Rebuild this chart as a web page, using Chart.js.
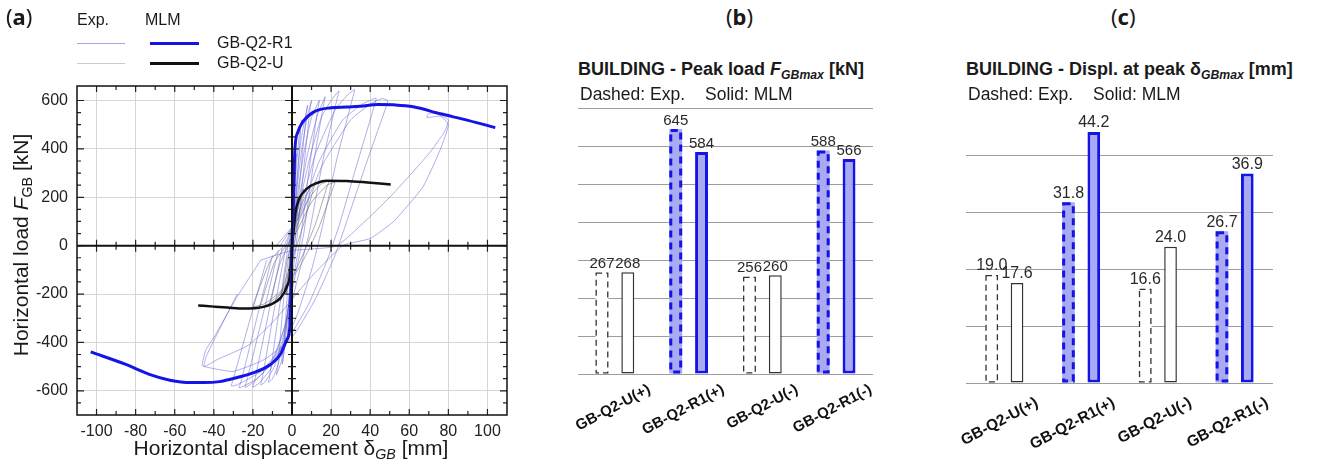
<!DOCTYPE html>
<html>
<head>
<meta charset="utf-8">
<script src="https://cdn.jsdelivr.net/npm/chart.js@4.4.1/dist/chart.umd.min.js"></script>
<style>
  body { margin: 0; background: #fff; }
  #wrap { position: relative; width: 1319px; height: 469px; overflow: hidden; font-family: "Liberation Sans", Arial, sans-serif; color: #1a1a1a; }
  canvas { position: absolute; }
  .t { position: absolute; white-space: nowrap; }
  .ln { position: absolute; height: 0; }
  .lg { font-size: 16px; line-height: 18px; }
  .pl { font-family: "Noto Sans", sans-serif; font-size: 22px; line-height: 26px; }
  .ttl { font-size: 18px; line-height: 20px; font-weight: bold; }
  .sub { font-size: 17.5px; line-height: 20px; }
  sub { font-size: 0.68em; vertical-align: -0.3em; line-height: 0; }
</style>
</head>
<body>
<div id="wrap">
  <canvas id="cA" width="520" height="469" style="left:0;top:0"></canvas>
  <canvas id="cB" width="340" height="369" style="left:550px;top:100px"></canvas>
  <canvas id="cC" width="350" height="369" style="left:940px;top:100px"></canvas>

  <div class="t pl" style="left:6px;top:3px">(<b>a</b>)</div>
  <div class="t pl" style="left:726px;top:3px">(<b>b</b>)</div>
  <div class="t pl" style="left:1111px;top:3px">(<b>c</b>)</div>

  <div class="t lg" style="left:77px;top:11px">Exp.</div>
  <div class="t lg" style="left:145px;top:11px">MLM</div>
  <div class="ln" style="left:77px;top:43px;width:48px;border-top:1px solid rgba(90,90,210,0.55)"></div>
  <div class="ln" style="left:150px;top:42px;width:49px;border-top:3px solid #1414e6"></div>
  <div class="t lg" style="left:217px;top:34px">GB-Q2-R1</div>
  <div class="ln" style="left:77px;top:63px;width:48px;border-top:1px solid rgba(150,150,160,0.5)"></div>
  <div class="ln" style="left:150px;top:62px;width:49px;border-top:3px solid #111"></div>
  <div class="t lg" style="left:217px;top:54px">GB-Q2-U</div>

  <div class="t" style="left:91px;top:436px;width:400px;text-align:center;font-size:21px;line-height:24px">Horizontal displacement &delta;<sub><i>GB</i></sub> [mm]</div>
  <div class="t" style="left:-129px;top:233px;width:300px;height:24px;text-align:center;font-size:21px;line-height:24px;transform:rotate(-90deg)">Horizontal load <i>F</i><sub>GB</sub> [kN]</div>

  <div class="t ttl" style="left:578px;top:59px">BUILDING - Peak load <i>F</i><sub><i>GBmax</i></sub> [kN]</div>
  <div class="t sub" style="left:580px;top:84px">Dashed: Exp.<span style="margin-left:20px">Solid: MLM</span></div>
  <div class="t ttl" style="left:966px;top:59px">BUILDING - Displ. at peak &delta;<sub><i>GBmax</i></sub> [mm]</div>
  <div class="t sub" style="left:968px;top:84px">Dashed: Exp.<span style="margin-left:20px">Solid: MLM</span></div>
</div>
<script>
// ---- panel (a): load-displacement curves [mm, kN] ----
const mlmR1 = [[-103,-439],[-85,-491],[-73,-532],[-62.5,-556],[-52,-566],[-45,-566],[-37,-562],[-32,-553],[-20,-526],[-11,-491],[-6,-450],[-2.6,-388],[-1,-330],[-0.4,-150],[0,0],
  [0.5,120],[1.5,400],[3,470],[5,505],[11,552],[20,570],[28,573],[35,576],[44,584],[52,582],[62,574],[76,545],[90,518],[104,488]];
const mlmU = [[-48,-247],[-40,-252],[-33,-256],[-24,-260],[-18,-258],[-11,-244],[-6,-217],[-2.6,-169],[-0.9,-114],[0,0],
  [0.8,60],[1.7,134],[3.4,188],[7.7,236],[12.8,259],[17.6,268],[28,267],[38.6,261],[50.5,253]];

const expR1Loops = [
  [[0,0],[0.6,120],[1.4,260],[2.2,380],[1.9,340],[0.6,90],[-0.2,-30],[-0.8,-150],[-1.6,-280],[-2.3,-380],[-2,-330],[-0.5,-60],[0,0]],
  [[0,0],[1.2,200],[2.6,360],[4,480],[5,520],[4.4,480],[2,180],[0.6,0],[-1,-150],[-2.6,-320],[-4,-440],[-5,-490],[-4.4,-450],[-2,-150],[-0.5,0]],
  [[-0.5,0],[2,230],[4.5,430],[7,540],[8,580],[7.3,545],[4,260],[1.5,20],[-0.5,-130],[-3,-340],[-5.5,-480],[-8,-535],[-7.3,-500],[-4,-200],[-1,0]],
  [[-1,0],[2,200],[5,400],[8,540],[10,600],[9.3,570],[6,320],[2.5,30],[0,-140],[-3.5,-350],[-7,-490],[-10,-550],[-12,-565],[-11.2,-530],[-6,-230],[-2,0]],
  [[-1.5,0],[2,170],[6,380],[10,530],[14,600],[13.2,565],[9,330],[4.5,40],[1,-120],[-4,-360],[-9,-500],[-14,-565],[-16,-575],[-15,-540],[-9,-260],[-3,0]],
  [[-2,0],[3,170],[8,380],[13,540],[17,615],[16.2,585],[11,340],[6,50],[2,-110],[-4,-340],[-11,-510],[-17,-570],[-20,-585],[-19,-555],[-12,-280],[-5,-10]],
  [[-3,0],[3,150],[9,360],[15,530],[20,600],[24,640],[23,605],[16,360],[9,60],[4,-100],[-3,-320],[-11,-490],[-19,-560],[-24,-586],[-23,-555],[-15,-290],[-7,-20]],
  [[-4,0],[4,150],[12,380],[22,560],[28,620],[32,645],[31,610],[23,360],[15,60],[10,-100],[2,-300],[-8,-460],[-18,-550],[-27,-588],[-26,-560],[-18,-300],[-10,-40]],
  [[-6,0],[4,130],[14,350],[26,520],[36,585],[43,610],[42,575],[33,330],[24,80],[18,-60],[8,-250],[-4,-410],[-16,-520],[-28,-575],[-31,-580],[-30,-550],[-22,-320],[-13,-60]],
  [[-8,0],[4,120],[16,340],[30,520],[40,585],[46,608],[49,600],[48,570],[38,340],[28,100],[22,-40],[12,-220],[0,-380],[-14,-470],[-30,-520],[-42,-505],[-46,-495],[-44,-430],[-40,-380],[-28,-210],[-16,-60]],
  [[-16,-60],[0,-20],[23,0],[50,200],[70,380],[78,470],[80,520],[74,545],[70,548],[69,530],[76,535],[80,500],[76,400],[67,243],[52,100],[40,30],[26,0],[12,-110],[2.6,-196],[-8,-300],[-22,-410],[-38,-470],[-45,-500],[-44,-460],[-38,-360],[-28,-200]]
];
const expULoops = [
  [[0,0],[0.5,60],[1,110],[1.5,150],[1.3,130],[0.4,30],[0,-20],[-0.5,-70],[-1,-120],[-1.5,-150],[-1.3,-130],[-0.3,-20],[0,0]],
  [[0,0],[1,90],[2,160],[3,200],[2.6,180],[1,50],[0,-20],[-1,-100],[-2,-160],[-3,-200],[-2.6,-180],[-1,-40],[0,0]],
  [[-0.5,0],[2,110],[4,190],[6,235],[5.4,215],[2.5,70],[0.5,-20],[-2,-120],[-4,-190],[-6,-230],[-5.4,-210],[-2.5,-60],[-0.5,0]],
  [[-1,0],[2,90],[6,190],[10,245],[12,255],[11,235],[6,90],[2,-10],[-2,-110],[-6,-200],[-10,-240],[-12,-250],[-11,-225],[-6,-70],[-2,0]],
  [[-2,0],[3,90],[9,200],[15,255],[19,267],[18,245],[12,90],[7,-10],[2,-100],[-5,-190],[-12,-240],[-16.6,-256],[-15.5,-230],[-9,-70],[-3,0]],
  [[-3,0],[3,70],[10,180],[18,250],[22,262],[21,240],[14,80],[9,-10],[3,-100],[-6,-190],[-14,-240],[-20,-252],[-19,-225],[-11,-60],[-4,0]]
];

// ---- panels (b), (c): bar values ----
const specimens = ['GB-Q2-U(+)', 'GB-Q2-R1(+)', 'GB-Q2-U(-)', 'GB-Q2-R1(-)'];
const peakLoadExp = [267, 645, 256, 588];
const peakLoadMlm = [268, 584, 260, 566];
const peakDispExp = [19.0, 31.8, 16.6, 26.7];
const peakDispMlm = [17.6, 44.2, 24.0, 36.9];

const BLUE = '#1414e6';
const FILL = 'rgb(170,170,242)';
const FONT = '"Liberation Sans", Arial, sans-serif';
const pts = arr => arr.map(p => ({x: p[0], y: p[1]}));

const frameA = {
  id: 'frameA',
  afterDatasetsDraw(chart) {
    const {ctx, chartArea: a, scales: {x, y}} = chart;
    const x0 = x.getPixelForValue(0), y0 = y.getPixelForValue(0);
    ctx.save();
    ctx.strokeStyle = '#222';
    ctx.lineWidth = 1.2;
    ctx.beginPath();
    x.ticks.forEach(t => {
      if (t.value % 10 !== 0 || Math.abs(t.value) >= 110) return;
      const px = x.getPixelForValue(t.value);
      const len = t.value % 20 === 0 ? 6 : 4;
      ctx.moveTo(px, a.bottom); ctx.lineTo(px, a.bottom - len);
      ctx.moveTo(px, a.top); ctx.lineTo(px, a.top + len);
      ctx.moveTo(px, y0 - len); ctx.lineTo(px, y0 + len);
    });
    y.ticks.forEach(t => {
      if (t.value % 50 !== 0 || t.value <= -700) return;
      const py = y.getPixelForValue(t.value);
      const len = t.value % 200 === 0 ? 7 : 4;
      ctx.moveTo(a.left, py); ctx.lineTo(a.left + len, py);
      ctx.moveTo(a.right, py); ctx.lineTo(a.right - len, py);
      ctx.moveTo(x0 - len, py); ctx.lineTo(x0 + len, py);
    });
    ctx.stroke();
    ctx.lineWidth = 2;
    ctx.strokeStyle = '#111';
    ctx.beginPath();
    ctx.moveTo(a.left, y0); ctx.lineTo(a.right, y0);
    ctx.moveTo(x0, a.top); ctx.lineTo(x0, a.bottom);
    ctx.stroke();
    ctx.lineWidth = 1.5;
    ctx.strokeRect(a.left, a.top, a.width, a.height);
    ctx.restore();
  }
};

const lightGrid = ctx => (ctx.tick && ctx.tick.value !== 0 && ctx.tick.value % 200 === 0) ? '#d6d6d6' : 'rgba(0,0,0,0)';

const datasetsA = [
  {data: pts(mlmR1), borderColor: BLUE, borderWidth: 3, showLine: true, cubicInterpolationMode: 'monotone'},
  {data: pts(mlmU), borderColor: '#111', borderWidth: 2.5, showLine: true, cubicInterpolationMode: 'monotone'}
];
expR1Loops.forEach(l => datasetsA.push({data: pts(l), borderColor: 'rgba(95,95,210,0.5)', borderWidth: 1, showLine: true, tension: 0.15}));
expULoops.forEach(l => datasetsA.push({data: pts(l), borderColor: 'rgba(70,70,80,0.45)', borderWidth: 1, showLine: true, tension: 0.15}));

new Chart(document.getElementById('cA'), {
  type: 'scatter',
  data: {datasets: datasetsA},
  options: {
    responsive: false,
    animation: false,
    layout: {padding: {top: 86, right: 13, left: 0, bottom: 0}},
    plugins: {legend: {display: false}, tooltip: {enabled: false}},
    elements: {point: {radius: 0}},
    scales: {
      x: {
        type: 'linear', min: -110, max: 110,
        ticks: {stepSize: 10, autoSkip: false, maxRotation: 0, padding: 7, color: '#222', font: {family: FONT, size: 16},
          callback: v => (v % 20 === 0 && Math.abs(v) <= 100) ? v : ''},
        grid: {color: ctx => (ctx.tick && ctx.tick.value !== 0 && ctx.tick.value % 20 === 0) ? '#d6d6d6' : 'rgba(0,0,0,0)', drawTicks: false},
        border: {display: false},
        afterFit(s) { s.height = 54; s.paddingLeft = 0; s.paddingRight = 0; }
      },
      y: {
        type: 'linear', min: -700, max: 660,
        ticks: {stepSize: 50, autoSkip: false, padding: 9, color: '#222', font: {family: FONT, size: 16},
          callback: v => v % 200 === 0 ? v : ''},
        grid: {color: lightGrid, drawTicks: false},
        border: {display: false},
        afterFit(s) { s.width = 77; s.paddingTop = 0; s.paddingBottom = 0; }
      }
    }
  },
  plugins: [frameA]
});

// dashed outlines for the Exp. bars, value labels, slanted category labels
const barDeco = {
  id: 'barDeco',
  afterDatasetsDraw(chart, args, opts) {
    const ctx = chart.ctx;
    ctx.save();
    chart.getDatasetMeta(0).data.forEach((bar, i) => {
      const blue = i % 2 === 1;
      const lw = blue ? 3 : 1.3;
      ctx.lineWidth = lw;
      ctx.strokeStyle = blue ? BLUE : '#333';
      ctx.setLineDash(blue ? [7, 5] : [6, 4]);
      const l = bar.x - bar.width / 2 + lw / 2, r = bar.x + bar.width / 2 - lw / 2;
      const top = bar.y + lw / 2, bot = bar.base - lw / 2;
      ctx.strokeRect(l, top, r - l, bot - top);
    });
    ctx.setLineDash([]);
    ctx.font = opts.size + 'px ' + FONT;
    ctx.fillStyle = '#2a2a2a';
    ctx.textAlign = 'center';
    ctx.textBaseline = 'bottom';
    chart.data.datasets.forEach((ds, di) => {
      chart.getDatasetMeta(di).data.forEach((bar, i) => {
        ctx.fillText(ds.data[i].toFixed(opts.digits), bar.x, bar.y - 1);
      });
    });

    const xs = chart.scales.x;
    ctx.font = 'bold ' + opts.labSize + 'px ' + FONT;
    ctx.fillStyle = '#111';
    ctx.textAlign = 'right';
    ctx.textBaseline = 'top';
    chart.data.labels.forEach((lab, i) => {
      ctx.save();
      ctx.translate(xs.getPixelForTick(i) + opts.offset, chart.chartArea.bottom + opts.pad);
      ctx.rotate(-opts.angle * Math.PI / 180);
      ctx.fillText(lab, 0, 0);
      ctx.restore();
    });
    ctx.restore();
  }
};

function barChart(id, exp, mlm, o) {
  const bg = ['#ffffff', FILL, '#ffffff', FILL];
  return new Chart(document.getElementById(id), {
    type: 'bar',
    data: {
      labels: specimens,
      datasets: [
        {data: exp, backgroundColor: bg, borderWidth: 0, categoryPercentage: o.cat, barPercentage: 0.5},
        {data: mlm, backgroundColor: bg, borderColor: ['#333', BLUE, '#333', BLUE], borderWidth: [1.5, 3, 1.5, 3],
          borderSkipped: false, categoryPercentage: o.cat, barPercentage: 0.5}
      ]
    },
    options: {
      responsive: false,
      animation: false,
      layout: {padding: {left: o.left, right: 17, top: o.top, bottom: 0}},
      plugins: {legend: {display: false}, tooltip: {enabled: false},
        barDeco: {size: o.valSize, digits: o.digits, labSize: o.labSize, offset: o.offset, pad: o.pad, angle: 28}},
      scales: {
        x: {
          grid: {display: false, drawTicks: false},
          border: {display: false},
          ticks: {display: false},
          afterFit(s) { s.height = o.xh; s.paddingLeft = 0; s.paddingRight = 0; }
        },
        y: {
          min: 0, max: o.max,
          ticks: {display: false, stepSize: o.step},
          grid: {color: ctx => (ctx.tick && ctx.tick.value % o.step === 0) ? '#9c9c9c' : 'rgba(0,0,0,0)', drawTicks: false},
          border: {display: false},
          afterFit(s) { s.width = 0; }
        }
      }
    },
    plugins: [barDeco]
  });
}

barChart('cB', peakLoadExp, peakLoadMlm, {cat: 0.7, left: 28, top: 8, max: 700, step: 100, xh: 95, offset: 31, pad: 8, labSize: 15, valSize: 15, digits: 0});
barChart('cC', peakDispExp, peakDispMlm, {cat: 0.66, left: 26, top: 16, max: 47, step: 10, xh: 86, offset: 29, pad: 12, labSize: 15.5, valSize: 16, digits: 1});
</script>
</body>
</html>
